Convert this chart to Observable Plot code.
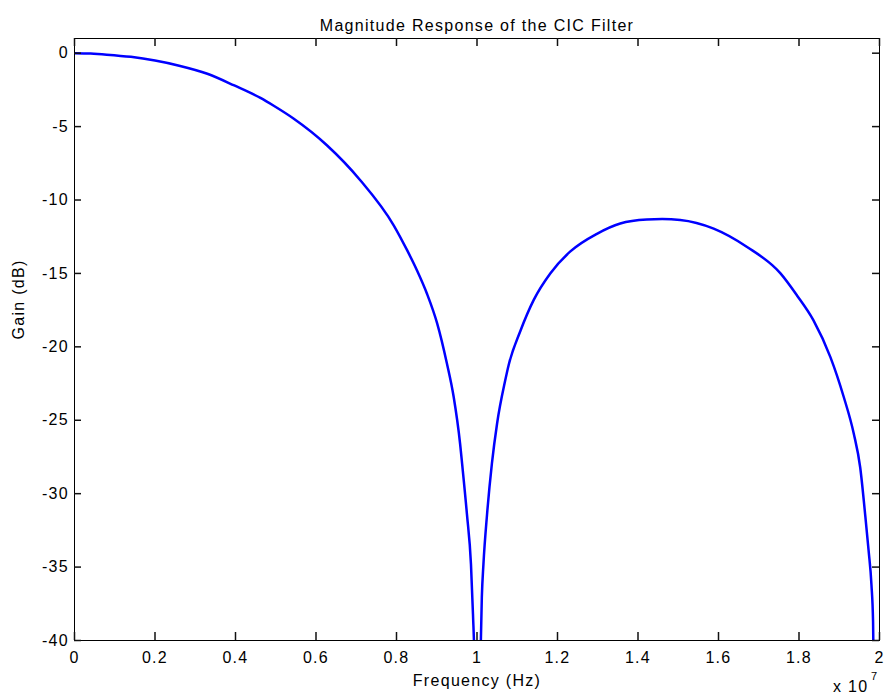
<!DOCTYPE html>
<html>
<head>
<meta charset="utf-8">
<script src="https://cdn.jsdelivr.net/npm/d3@7"></script>
<script src="https://cdn.jsdelivr.net/npm/@observablehq/plot@0.6"></script>
<style>
  html, body { margin: 0; padding: 0; background: #fff; }
  svg { display: block; }
</style>
</head>
<body>
<div id="chart"></div>
<script>
// Frequency in units of 1e7 Hz
const freq = [0, 0.04, 0.08, 0.14, 0.2, 0.26, 0.33, 0.397, 0.462, 0.496, 0.544, 0.627, 0.71, 0.793, 0.826, 0.851, 0.876, 0.901, 0.925, 0.942, 0.958, 0.963, 0.975, 0.985, 0.990, 0.994, 1.000, 1.008, 1.012, 1.016, 1.025, 1.037, 1.050, 1.070, 1.079, 1.108, 1.141, 1.182, 1.232, 1.298, 1.356, 1.422, 1.46, 1.505, 1.588, 1.671, 1.754, 1.795, 1.836, 1.878, 1.911, 1.936, 1.952, 1.965, 1.973, 1.980, 1.984, 1.987];
// Gain in dB
const gain = [0, -0.03, -0.1, -0.25, -0.5, -0.85, -1.4, -2.2, -3.05, -3.6, -4.45, -6.27, -8.65, -11.72, -13.4, -14.8, -16.4, -18.4, -21.1, -23.4, -26.6, -27.96, -31.4, -34.8, -38.2, -42, -60, -42, -37.05, -34.8, -31.4, -27.96, -25.2, -22.3, -21.2, -18.9, -16.8, -15.0, -13.5, -12.3, -11.6, -11.33, -11.3, -11.36, -11.95, -13.2, -15.0, -16.5, -18.2, -20.7, -23.4, -25.9, -28.2, -31.6, -33.9, -36.2, -38.7, -45];

const xTicks = [0, 0.2, 0.4, 0.6, 0.8, 1, 1.2, 1.4, 1.6, 1.8, 2];
const yTicks = [0, -5, -10, -15, -20, -25, -30, -35, -40];

const titleText = "Magnitude Response of the CIC Filter";
const xLabel = "Frequency (Hz)";
const yLabel = "Gain (dB)";
const xExpBase = "x 10";
const xExpPow = "7";

const data = freq.map((f, i) => ({f, g: gain[i]}));
const xTickData = xTicks.map(v => ({v}));
const yTickData = yTicks.map(v => ({v}));

const W = 886, H = 700, mL = 74, mR = 7, mT = 38, mB = 60;
const frameW = W - mL - mR, frameH = H - mT - mB;
const xTickLen = 8, yTickLen = 7;
const tickStyle = {stroke: "#111", strokeWidth: 1.5};

const chart = Plot.plot({
  width: W,
  height: H,
  marginLeft: mL,
  marginRight: mR,
  marginTop: mT,
  marginBottom: mB,
  style: {fontFamily: "'Liberation Sans', Arial, sans-serif", fontSize: "16px", background: "#fff", color: "#000", letterSpacing: "1.3px"},
  x: {domain: [0, 2]},
  y: {domain: [-40, 1]},
  marks: [
    Plot.line(data, {x: "f", y: "g", stroke: "#0000ff", strokeWidth: 2.5, curve: "monotone-x", strokeLinejoin: "round", clip: true}),
    Plot.frame({stroke: "#000", strokeWidth: 1}),
    Plot.axisX(xTicks, {anchor: "bottom", tickSize: 0, tickPadding: 11, tickFormat: d => String(d), label: null, fill: "#000"}),
    Plot.axisY(yTicks, {anchor: "left", tickSize: 0, tickPadding: 5.5, tickFormat: d => String(d), label: null, fill: "#000"}),
    // inward ticks on all four sides (MATLAB box style)
    Plot.ruleX(xTickData, {x: "v", insetTop: frameH - xTickLen, ...tickStyle}),
    Plot.ruleX(xTickData, {x: "v", insetBottom: frameH - xTickLen, ...tickStyle}),
    Plot.ruleY(yTickData, {y: "v", insetRight: frameW - yTickLen, ...tickStyle}),
    Plot.ruleY(yTickData, {y: "v", insetLeft: frameW - yTickLen, ...tickStyle}),
    Plot.text([titleText], {frameAnchor: "top", dy: -19, fill: "#000"}),
    Plot.text([xLabel], {frameAnchor: "bottom", dy: 45, fill: "#000"}),
    Plot.text([yLabel], {frameAnchor: "left", dx: -56, rotate: -90, fill: "#000"}),
    Plot.text([xExpBase], {frameAnchor: "bottom-right", dx: -11, dy: 51, fill: "#000"}),
    Plot.text([xExpPow], {frameAnchor: "bottom-right", dx: -1, dy: 39, fontSize: 11, fill: "#000"})
  ]
});

document.getElementById("chart").appendChild(chart);
</script>
</body>
</html>
